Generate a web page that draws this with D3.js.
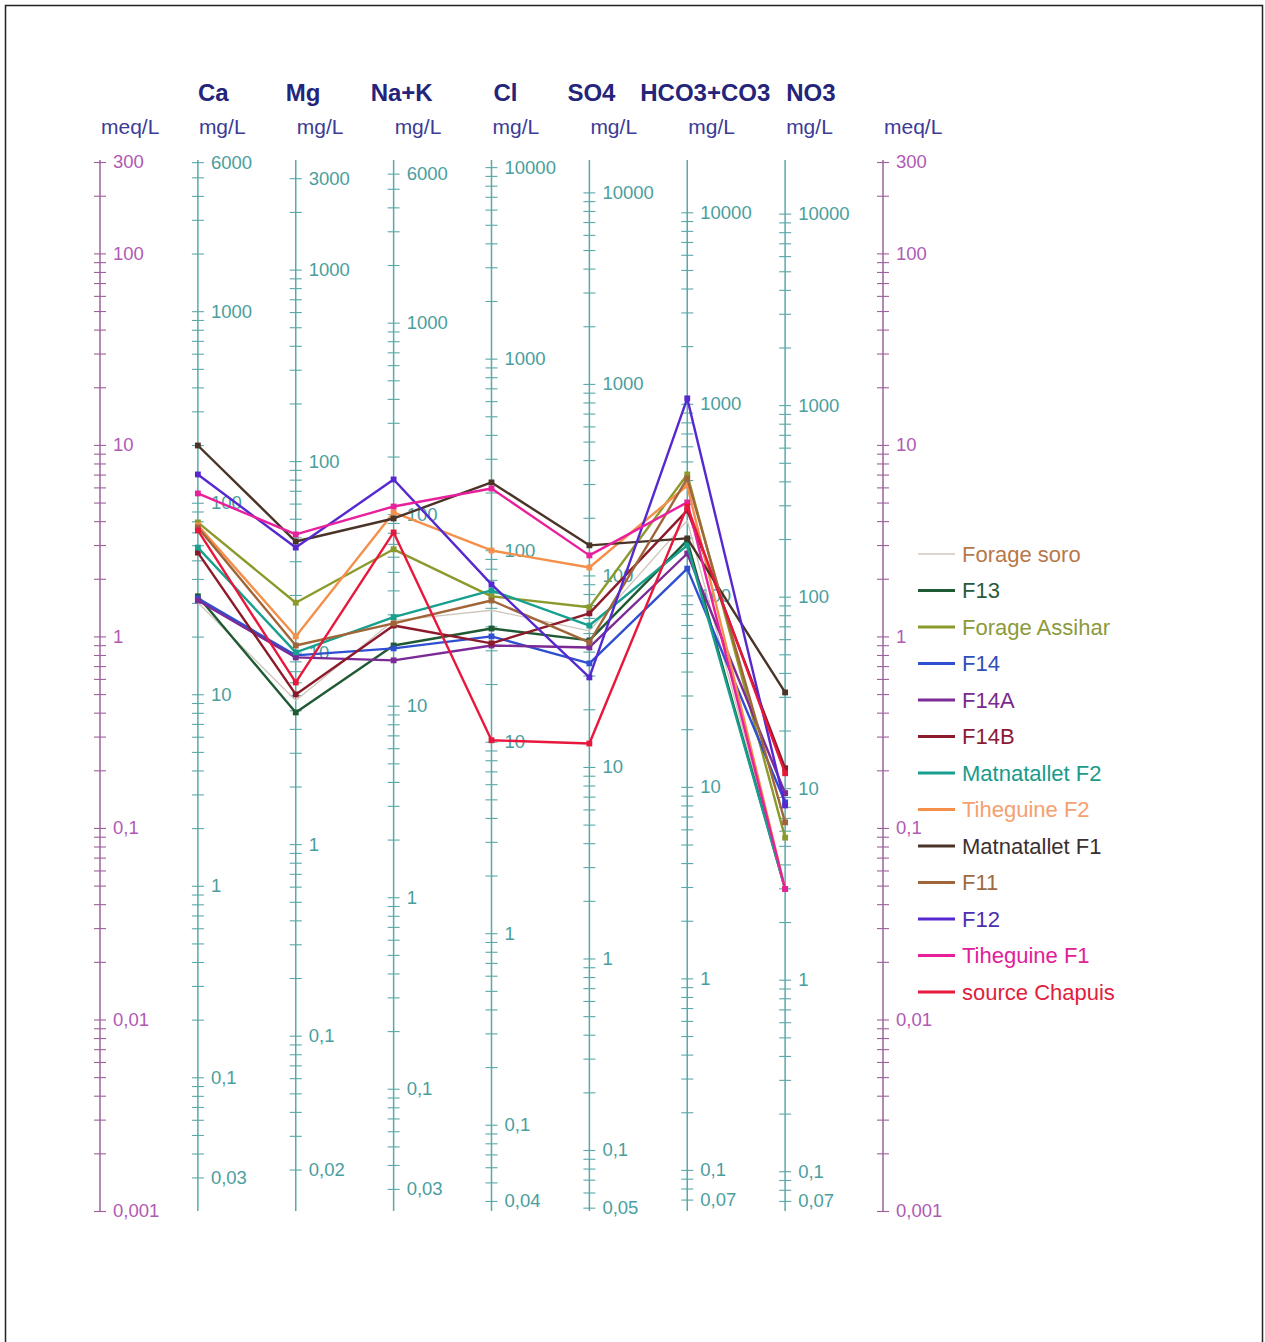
<!DOCTYPE html>
<html>
<head>
<meta charset="utf-8">
<script src="https://cdn.jsdelivr.net/npm/d3@7"></script>
<style>
  body { margin: 0; background: #fff; }
  svg { display: block; font-family: "Liberation Sans", Arial, sans-serif; }
</style>
</head>
<body>
<svg id="chart" width="1265" height="1342"></svg>
<script>
// Schoeller diagram: ions on parallel log axes, concentrations in meq/L
const ions = ["Ca", "Mg", "Na+K", "Cl", "SO4", "HCO3+CO3", "NO3"];
const eqWeights = [20.04, 12.15, 23.0, 35.45, 48.03, 61.02, 62.0];   // mg per meq
const topLabels = [6000, 3000, 6000, 10000, 10000, 10000, 10000];     // mg/L
const bottomLabels = [0.03, 0.02, 0.03, 0.04, 0.05, 0.07, 0.07];      // mg/L
const meqLabels = [300, 100, 10, 1, 0.1, 0.01, 0.001];

// Samples, meq/L in ion order: Ca, Mg, Na+K, Cl, SO4, HCO3+CO3, NO3
const forageSoro     = [1.50, 0.463, 1.21, 1.37, 1.07, 4.03, 0.048];
const f13            = [1.62, 0.401, 0.897, 1.10, 0.953, 3.17, 0.048];
const forageAssihar  = [3.94, 1.50, 2.85, 1.62, 1.42, 7.01, 0.089];
const f14            = [1.58, 0.796, 0.866, 1.00, 0.723, 2.26, 0.136];
const f14A           = [1.54, 0.777, 0.750, 0.897, 0.876, 2.71, 0.152];
const f14B           = [2.74, 0.498, 1.14, 0.920, 1.32, 4.55, 0.205];
const matnatalletF2  = [2.91, 0.825, 1.26, 1.74, 1.14, 2.99, 0.048];
const tiheguineF2    = [3.80, 1.00, 4.44, 2.81, 2.29, 6.14, 0.048];
const matnatalletF1  = [9.93, 3.13, 4.13, 6.37, 2.99, 3.25, 0.510];
const f11            = [3.71, 0.897, 1.17, 1.54, 0.930, 6.68, 0.107];
const f12            = [7.01, 2.91, 6.60, 1.87, 0.611, 17.5, 0.131];
const tiheguineF1    = [5.58, 3.41, 4.77, 5.92, 2.65, 5.01, 0.048];
const sourceChapuis  = [3.58, 0.575, 3.49, 0.287, 0.276, 4.77, 0.193];

const seriesNames = ["Forage soro", "F13", "Forage Assihar", "F14", "F14A", "F14B",
  "Matnatallet F2", "Tiheguine F2", "Matnatallet F1", "F11", "F12", "Tiheguine F1", "source Chapuis"];
const seriesValues = [forageSoro, f13, forageAssihar, f14, f14A, f14B,
  matnatalletF2, tiheguineF2, matnatalletF1, f11, f12, tiheguineF1, sourceChapuis];
const lineColors = ["#cfc7bd", "#1f5a34", "#8c9a2c", "#2f4fd0", "#7c2a96", "#8c1a2a",
  "#17a08e", "#f4904c", "#4a3428", "#a0663a", "#5628d0", "#e8209c", "#e8183c"];
const textColors = ["#b8784a", "#2a5a3a", "#8c9a3c", "#3050b8", "#7a2a8c", "#8c1a34",
  "#1a9a8a", "#f4a070", "#3a3030", "#a06a40", "#4a30b0", "#e0209a", "#e0203c"];

const svg = d3.select("#chart");
const W = 1265, H = 1342;

// frame
svg.append("rect")
  .attr("x", 5.5).attr("y", 5.5).attr("width", W - 8).attr("height", H + 10)
  .attr("fill", "none").attr("stroke", "#222").attr("stroke-width", 1.5);

const yTop = 162, yBottom = 1211;
const y = d3.scaleLog().domain([0.001, 300]).range([yBottom, yTop]);
const columns = ["meqL", ...ions, "meqR"];
const x = d3.scalePoint().domain(columns).range([100, 883]);

const fmt = v => String(+v.toPrecision(6)).replace(".", ",");

function logTicks(lo, hi) {
  const out = [];
  for (let k = -4; k <= 5; k++) {
    for (let n = 1; n <= 9; n++) {
      const v = +(n * Math.pow(10, k)).toPrecision(6);
      if (v >= lo * 0.9999 && v <= hi * 1.0001) out.push(v);
    }
  }
  return out;
}

function drawAxis(cx, scale, labels, lineColor, labelColor) {
  const [lo, hi] = [d3.min(labels), d3.max(labels)];
  const ticks = logTicks(lo, hi);
  const g = svg.append("g").attr("transform", `translate(${cx},0)`);
  g.append("line")
    .attr("x1", 0).attr("x2", 0).attr("y1", yTop - 2).attr("y2", yBottom)
    .attr("stroke", lineColor).attr("stroke-width", 1.5);
  const axis = d3.axisRight(scale)
    .tickValues(ticks)
    .tickSize(6)
    .tickPadding(7)
    .tickFormat(d => labels.some(l => Math.abs(l - d) / l < 1e-6) ? fmt(d) : "");
  const ag = g.append("g").call(axis);
  ag.select(".domain").remove();
  ag.selectAll(".tick line")
    .attr("x1", -6).attr("x2", 6)
    .attr("stroke", lineColor).attr("stroke-width", 1.1);
  ag.selectAll(".tick text")
    .attr("x", 13)
    .attr("fill", labelColor)
    .style("font-size", "18.5px")
    .style("font-family", "'Liberation Sans', Arial, sans-serif");
}

// meq/L reference axes on both sides
const meqLine = "#9c609c", meqText = "#b05ab4";
drawAxis(x("meqL"), y, meqLabels, meqLine, meqText);
drawAxis(x("meqR"), y, meqLabels, meqLine, meqText);

// mg/L axis for every ion
const ionLine = "#5aa8a8", ionText = "#4a9e9e";
ions.forEach((ion, i) => {
  const w = eqWeights[i];
  const scale = d3.scaleLog().domain([0.001 * w, 300 * w]).range([yBottom, yTop]);
  const labels = [topLabels[i], bottomLabels[i]];
  for (let k = -3; k <= 5; k++) {
    const v = +Math.pow(10, k).toPrecision(6);
    if (v > bottomLabels[i] && v < topLabels[i]) labels.push(v);
  }
  drawAxis(x(ion), scale, labels, ionLine, ionText);
});

// headers
const headerDx = [0, -10, -23, 2, -22, -47, 1];
svg.append("g").selectAll("text")
  .data(ions)
  .join("text")
  .attr("x", (d, i) => x(d) + headerDx[i])
  .attr("y", 101)
  .attr("fill", "#24247a")
  .style("font-size", "24px")
  .style("font-weight", "bold")
  .text(d => d);

svg.append("g").selectAll("text")
  .data(columns)
  .join("text")
  .attr("x", d => x(d) + 1)
  .attr("y", 134)
  .attr("fill", "#3c3c96")
  .style("font-size", "21px")
  .text(d => (d === "meqL" || d === "meqR") ? "meq/L" : "mg/L");

// sample lines
const line = d3.line()
  .x((d, i) => x(ions[i]))
  .y(d => y(d));

const sg = svg.append("g");
seriesValues.forEach((vals, s) => {
  const g = sg.append("g");
  g.append("path")
    .attr("d", line(vals))
    .attr("fill", "none")
    .attr("stroke", lineColors[s])
    .attr("stroke-width", s === 0 ? 1.3 : 2.4)
    .attr("stroke-linejoin", "round");
  if (s !== 0) {
    g.selectAll("path.pt")
      .data(vals)
      .join("path")
      .attr("class", "pt")
      .attr("transform", (d, i) => `translate(${x(ions[i])},${y(d)})`)
      .attr("d", d3.symbol(d3.symbolSquare, 34))
      .attr("fill", lineColors[s]);
  }
});

// legend
const legend = svg.append("g").attr("transform", "translate(918,554)");
const rows = legend.selectAll("g")
  .data(seriesNames)
  .join("g")
  .attr("transform", (d, i) => `translate(0,${i * 36.5})`);
rows.append("line")
  .attr("x1", 0).attr("x2", 37).attr("y1", 0).attr("y2", 0)
  .attr("stroke", (d, i) => lineColors[i])
  .attr("stroke-width", (d, i) => i === 0 ? 1.3 : 3);
rows.append("text")
  .attr("x", 44).attr("y", 7.5)
  .attr("fill", (d, i) => textColors[i])
  .style("font-size", "22px")
  .text(d => d);
</script>
</body>
</html>
